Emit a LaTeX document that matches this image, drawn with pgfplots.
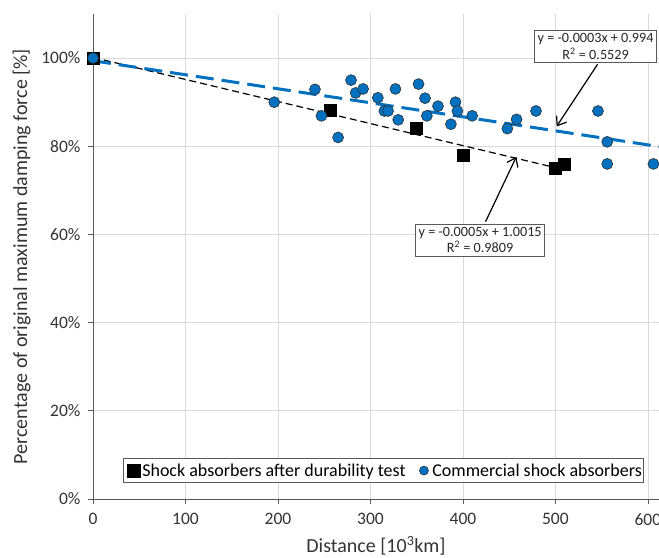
\documentclass[border=0pt]{standalone}
\usepackage{pgfplots}
\pgfplotsset{compat=1.18}
\usepackage{fontspec}
\setmainfont{Carlito}
\usetikzlibrary{arrows.meta}
\definecolor{xblue}{HTML}{0070C0}
\definecolor{axgray}{HTML}{595959}
\definecolor{grgray}{HTML}{D9D9D9}
\begin{document}
\begin{tikzpicture}
\begin{axis}[
  at={(0,0)}, anchor=south west,
  scale only axis, width=566pt, height=485pt,
  xmin=0, xmax=612, ymin=0, ymax=110,
  xtick={0,100,...,600}, ytick={0,20,...,100},
  /pgf/number format/assume math mode=true,
  yticklabel={\pgfmathprintnumber{\tick}\%},
  grid=major, major grid style={draw=grgray, line width=0.8pt},
  axis x line*=bottom, axis y line*=left,
  tick align=outside, major tick length=5pt,
  tick style={draw=axgray, line width=0.8pt},
  axis line style={draw=axgray, line width=0.8pt},
  ticklabel style={font=\fontsize{17.5}{20}\selectfont, text=black!80},
  xticklabel style={yshift=-6pt},
  yticklabel style={xshift=-4pt},
  label style={font=\fontsize{20}{24}\selectfont, text=black!80},
  xlabel={Distance [10\textsuperscript{3}km]},
  ylabel={Percentage of original maximum damping force [\%]},
  xlabel style={yshift=-4pt},
  ylabel style={yshift=4pt},
  legend columns=2,
  legend cell align=left,
  legend style={at={(rel axis cs:0.053,0.033)}, anchor=south west,
    draw=axgray, line width=0.8pt, fill=white,
    font=\fontsize{18}{21}\selectfont, inner xsep=0pt, inner ysep=3pt,
    /tikz/every even column/.append style={column sep=6pt}},
  legend image code/.code={\path (0pt,0pt) (16pt,0pt); \draw[#1] plot coordinates {(10pt,0pt)};},
]
\addplot[only marks, mark=square*, mark size=6pt, mark options={fill=black, draw=black},
  legend image post style={mark size=6.5pt}]
  coordinates {(0,100) (257,88.1) (349,84) (400,78) (500,75.1) (510,75.9)};
\addlegendentry{Shock absorbers after durability test}
\addplot[only marks, mark=*, mark size=5.5pt, mark options={fill=xblue, draw=black!80, line width=0.6pt},
  legend image post style={mark size=4.5pt}]
  coordinates {
  (0,100) (196,90) (240,92.9) (247,86.9) (265,82) (279,95) (284,92.1) (292,93)
  (308,91) (315,88) (319,88) (327,93) (330,86) (352,94.1) (359,90.9) (361,86.9)
  (373,89.1) (387,85) (392,90) (394,88) (410,86.9) (448,84) (458,86.1) (479,88)
  (546,88) (556,81) (556,76) (606,76)};
\addlegendentry{Commercial shock absorbers}
\addplot[black, line width=1.2pt, dash pattern=on 7pt off 4pt, forget plot]
  coordinates {(0,100.15) (510,74.65)};
\addplot[xblue, line width=3pt, dash pattern=on 18pt off 8pt, forget plot]
  coordinates {(0,99.4) (612,79.94)};
\draw[black, line width=1.2pt, -{Straight Barb[length=8pt,width=12pt]}]
  (axis cs:545.6,98.6) -- (axis cs:501.3,84.5);
\draw[black, line width=1.2pt, -{Straight Barb[length=8pt,width=12pt]}]
  (axis cs:424.5,62.9) -- (axis cs:457.7,77.6);
\node[draw=axgray, line width=1pt, fill=white, align=center, inner sep=3pt,
  font=\fontsize{14.2}{16.5}\selectfont, text=black!85] at (axis cs:543.5,102.6)
  {y = -0.0003x + 0.994\\R\textsuperscript{2} = 0.5529};
\node[draw=axgray, line width=1pt, fill=white, align=center, inner sep=3pt,
  font=\fontsize{14.2}{16.5}\selectfont, text=black!85] at (axis cs:418.6,58.7)
  {y = -0.0005x + 1.0015\\R\textsuperscript{2} = 0.9809};
\end{axis}
\pgfresetboundingbox
\path[use as bounding box] (-93pt,-58.7pt) rectangle (566pt,499pt);
\end{tikzpicture}
\end{document}
